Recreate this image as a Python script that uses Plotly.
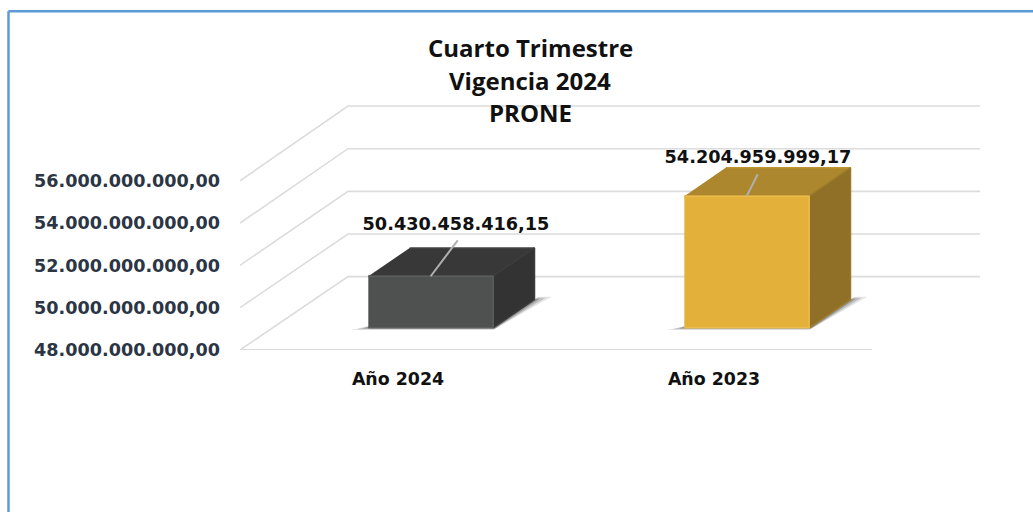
import plotly.graph_objects as go

# ---- data ----
categories = ["Año 2024", "Año 2023"]
values = [50430458416.15, 54204959999.17]
tick_values = [48e9, 50e9, 52e9, 54e9, 56e9]
tick_labels = ["48.000.000.000,00", "50.000.000.000,00", "52.000.000.000,00",
               "54.000.000.000,00", "56.000.000.000,00"]
title_lines = ["Cuarto Trimestre", "Vigencia 2024", "PRONE"]
front_colors = ["#4f5150", "#e3b03a"]
top_colors = ["#383838", "#ad872e"]
side_colors = ["#333333", "#8f7026"]
front_rims = ["#5c5e5d", "#edbd4c"]
top_rims = ["#444444", "#bd9533"]
side_rims = ["#3c3c3c", "#9c7a2a"]
# ------------------------------------

W, H = 1033, 512
L, R, T, B = 240, 980, 100, 350.5    # plot rectangle, px
PX_PER_X = 316                        # px per category
PX_PER_V = 42.4 / 2e9                 # px per value unit
DEPTH_X = 108 / PX_PER_X              # oblique offset of the back wall
DEPTH_V = 73.5 / PX_PER_V
PERSP = 0.008
BASE = tick_values[0]
BAR_W = 0.395
D0, D1 = 0.303, 0.686


def proj(x, v, d):
    """Oblique projection of (category x, value v, depth d) to plain axis coords."""
    return x + d * DEPTH_X, BASE + (v - BASE) * (1 + PERSP * d) + d * DEPTH_V


def poly(points, fill, line=None, width=0):
    xs, ys = zip(*[proj(*p) for p in points])
    return go.Scatter(x=list(xs), y=list(ys), mode="lines", fill="toself", fillcolor=fill,
                      line=dict(color=line or "rgba(0,0,0,0)", width=width),
                      hoverinfo="skip", showlegend=False)


def path(points, color, width):
    xs, ys = zip(*[proj(*p) for p in points])
    return go.Scatter(x=list(xs), y=list(ys), mode="lines", line=dict(color=color, width=width),
                      hoverinfo="skip", showlegend=False)


fig = go.Figure()

# wall + floor grid
for v in tick_values:
    fig.add_trace(path([(0, v, 0), (0, v, 1), (2, v, 1)], "#dcdcdc", 1.6))
fig.add_trace(path([(0, BASE, 0), (2, BASE, 0)], "#dcdcdc", 2))

# bars
leader_px = [(-27, 36), (-11, 22)]
label_px = [(456, 226), (758, 158.5)]
for i, val in enumerate(values):
    x0 = i + 0.5 - BAR_W / 2
    x1 = x0 + BAR_W
    # soft floor shadow, three layers
    for grow, alpha in [(1.0, 0.10), (0.65, 0.16), (0.3, 0.22)]:
        fig.add_trace(poly([(x0 - 0.045 * grow, BASE, D0 - 0.03 * grow),
                            (x1 + 0.01, BASE, D0 - 0.03 * grow),
                            (x1 + 0.04 * grow, BASE, D1 + 0.04 * grow),
                            (x1, BASE, D1 + 0.04 * grow),
                            (x1, BASE, D0),
                            (x0, BASE, D0 + 0.03)], f"rgba(0,0,0,{alpha})"))
    # top, side, front
    fig.add_trace(poly([(x0, val, D0), (x1, val, D0), (x1, val, D1), (x0, val, D1)],
                       top_colors[i], top_rims[i], 1.5))
    fig.add_trace(poly([(x1, BASE, D0), (x1, BASE, D1), (x1, val, D1), (x1, val, D0)],
                       side_colors[i], side_rims[i], 1.5))
    fig.add_trace(poly([(x0, BASE, D0), (x1, BASE, D0), (x1, val, D0), (x0, val, D0)],
                       front_colors[i], front_rims[i], 1.5))


# leader lines and data labels
def fmt(v):
    return f"{v:,.2f}".replace(",", "§").replace(".", ",").replace("§", ".")


for i, val in enumerate(values):
    xc = i + 0.5
    sx, sy = proj(xc, val, D0)
    dx, dy = leader_px[i]
    fig.add_trace(go.Scatter(x=[sx, sx - dx / PX_PER_X], y=[sy, sy + dy / PX_PER_V], mode="lines",
                             line=dict(color="#b0b0b0", width=2), hoverinfo="skip", showlegend=False))

fig.add_trace(go.Scatter(
    x=[(p[0] - L) / PX_PER_X for p in label_px],
    y=[BASE + (B - p[1]) / PX_PER_V for p in label_px],
    mode="text", text=[fmt(v) for v in values], textposition="middle center",
    textfont=dict(family="DejaVu Sans", size=17.7, color="#111111", weight="bold"),
    hoverinfo="skip", showlegend=False))

title_px = [47, 80, 113]
fig.update_layout(
    width=W, height=H, autosize=False,
    paper_bgcolor="white", plot_bgcolor="rgba(0,0,0,0)", showlegend=False,
    margin=dict(l=L, r=W - R, t=T, b=H - B, pad=0),
    annotations=[dict(text=line, xref="paper", yref="paper", showarrow=False,
                      x=(530 - L) / (R - L), y=(B - py) / (B - T),
                      xanchor="center", yanchor="middle",
                      font=dict(family="Open Sans", size=24, color="#111111", weight="bold"))
                 for line, py in zip(title_lines, title_px)],
    xaxis=dict(range=[0, (R - L) / PX_PER_X], tickmode="array", tickvals=[0.5, 1.5], ticktext=categories,
               showgrid=False, zeroline=False, showline=False, ticks="", ticklabelstandoff=17,
               tickfont=dict(family="DejaVu Sans", size=17.4, color="#111111", weight="bold")),
    yaxis=dict(range=[BASE, BASE + (B - T) / PX_PER_V], tickmode="array", tickvals=tick_values, ticktext=tick_labels,
               showgrid=False, zeroline=False, showline=False, ticks="", ticklabelstandoff=19,
               tickfont=dict(family="DejaVu Sans", size=17.6, color="#2b3544", weight="bold")),
    shapes=[dict(type="line", xref="paper", yref="paper", line=dict(color="#5b9bd5", width=2.5),
                 x0=(8.5 - L) / (R - L), x1=(W + 5 - L) / (R - L),
                 y0=(B - 11) / (B - T), y1=(B - 11) / (B - T)),
            dict(type="line", xref="paper", yref="paper", line=dict(color="#5b9bd5", width=2.5),
                 x0=(8.5 - L) / (R - L), x1=(8.5 - L) / (R - L),
                 y0=(B - 11) / (B - T), y1=(B - H - 5) / (B - T))],
)
fig.write_html("out.html", post_script="document.body.style.margin='0';",
               config={"displayModeBar": False})
